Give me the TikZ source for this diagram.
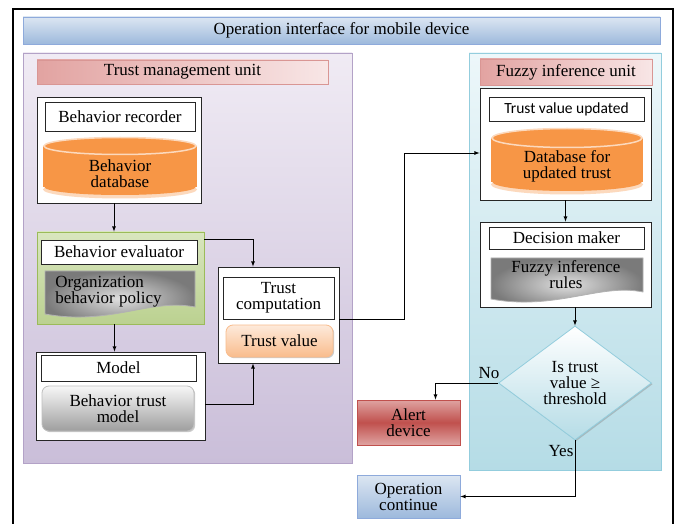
\documentclass[tikz,border=0pt]{standalone}
\usepackage{fontspec}
\setmainfont{Liberation Serif}
\newfontfamily\calfont{Carlito}
\usetikzlibrary{arrows,shapes.geometric,shadows}
\definecolor{bluelt}{HTML}{DCE6F2}
\definecolor{bluedk}{HTML}{9DB9DC}
\definecolor{blueline}{HTML}{8EAADB}
\definecolor{lavlt}{HTML}{F0EBF4}
\definecolor{lavdk}{HTML}{CABED9}
\definecolor{lavline}{HTML}{B3A2C7}
\definecolor{aqualt}{HTML}{EDF7FA}
\definecolor{aquadk}{HTML}{B5DCE6}
\definecolor{aqualine}{HTML}{93CDDD}
\definecolor{pinkdk}{HTML}{E2A3A1}
\definecolor{pinklt}{HTML}{F8E6E6}
\definecolor{pinkline}{HTML}{D99694}
\definecolor{greenlt}{HTML}{D9E6BF}
\definecolor{greendk}{HTML}{BBD190}
\definecolor{greenline}{HTML}{9BBB59}
\definecolor{cylbody}{HTML}{F79646}
\definecolor{cylrim}{HTML}{FCD9BD}
\definecolor{peachlt}{HTML}{FDEADB}
\definecolor{peachdk}{HTML}{F9BC8C}
\definecolor{redmid}{HTML}{C0504D}
\definecolor{redlt}{HTML}{DFA3A1}

\tikzset{
  shadowed/.style={drop shadow={shadow xshift=1.2pt, shadow yshift=-1.2pt, fill=black!45, opacity=0.45}},
  titlebar/.style={draw=blueline, top color=bluelt, bottom color=bluedk, shadowed},
  tmupanel/.style={draw=lavline, line width=0.8pt, top color=lavlt, bottom color=lavdk, shadowed},
  fiupanel/.style={draw=aqualine, line width=0.8pt, top color=aqualt, bottom color=aquadk, shadowed},
  header/.style={draw=pinkline, left color=pinkdk, right color=pinklt, shadowed},
  outerbox/.style={draw=black!85, line width=0.8pt, fill=white},
  labbox/.style={draw=black!85, line width=0.8pt, fill=white, inner sep=0pt, align=center},
  txt/.style={inner sep=0pt, align=center},
  greybox/.style={draw=black!25, rounded corners=7pt, top color=black!3, bottom color=black!38, shadowed, align=center},
  peachbox/.style={draw=peachdk, rounded corners=7pt, top color=peachlt, bottom color=peachdk, shadowed},
  docshade/.style={inner color=black!12, outer color=black!52, draw=black!30},
  decision/.style={diamond, aspect=1.34, inner sep=0pt, align=center, draw=aqualine, top color=white, bottom color=aquadk, shadowed}
}

\begin{document}
\begin{tikzpicture}[x=1pt, y=-1pt, >=latex, line width=0.8pt, font=\fontsize{17}{16}\selectfont]
	\useasboundingbox (0,0) rectangle (681,524);
	\draw[line width=2.5pt] (13,540) -- (13,9) -- (673,9) -- (673,540);
	%
	\node[titlebar, minimum width=637pt, minimum height=27pt] (title) at (341.5,30.5) {Operation interface for mobile device};
	\node[tmupanel, minimum width=329pt, minimum height=410pt] (tmu) at (187.5,258) {};
	\node[fiupanel, minimum width=192pt, minimum height=417pt] (fiu) at (565,261.5) {};
	\node[header, minimum width=291pt, minimum height=24pt] (tmuhead) at (182.5,72) {Trust management unit};
	\node[header, minimum width=172pt, minimum height=26pt] (fiuhead) at (566,72) {Fuzzy inference unit};
	%
	\node[outerbox, minimum width=164pt, minimum height=106pt] (rec) at (119,150) {};
	\node[labbox, minimum width=150pt, minimum height=29pt] (reclab) at (120,117) {Behavior recorder};
	\fill[cylrim] (120,189.5) ellipse (77 and 9);
	\fill[cylbody] (43,146) rectangle (197,187);
	\fill[cylbody] (120,187) ellipse (75.5 and 8);
	\filldraw[fill=cylbody, draw=cylrim, line width=1.5pt] (120,146) ellipse (76 and 8.5);
	\node[txt] (recdb) at (120,174) {Behavior\\database};
	%
	\node[outerbox, draw=greenline, top color=greenlt, bottom color=greendk, minimum width=167pt, minimum height=92pt] (eval) at (120.5,278) {};
	\node[labbox, minimum width=156pt, minimum height=24pt] (evallab) at (119,252) {Behavior evaluator};
	\shade[docshade] (45,271) -- (195,271) -- (195,307) .. controls (150,298) and (110,326) .. (45,314) -- cycle;
	\node[txt, align=left, anchor=west] (policy) at (55,292) {Organization\\behavior policy};
	%
	\node[outerbox, minimum width=169pt, minimum height=88pt] (model) at (120.5,396) {};
	\node[labbox, minimum width=155pt, minimum height=26pt] (modellab) at (118.5,368) {Model};
	\node[greybox, minimum width=152pt, minimum height=45pt] (btm) at (118,408.5) {Behavior trust\\model};
	%
	\node[outerbox, minimum width=121pt, minimum height=96pt] (tc) at (278.5,315) {};
	\node[labbox, minimum width=111pt, minimum height=42pt] (tclab) at (278.5,298) {Trust\\computation};
	\node[peachbox, minimum width=107pt, minimum height=32pt] (tval) at (279.5,341) {Trust value};
	%
	\node[outerbox, minimum width=171pt, minimum height=112pt] (tvu) at (565.5,144) {};
	\node[labbox, minimum width=155pt, minimum height=24pt, font=\calfont\fontsize{15.5}{16}\selectfont] (tvulab) at (566.5,109) {Trust value updated};
	\fill[cylrim] (567,184.5) ellipse (76 and 10);
	\fill[cylbody] (491,138) rectangle (643,182);
	\fill[cylbody] (567,182) ellipse (74.5 and 9);
	\filldraw[fill=cylbody, draw=cylrim, line width=1.5pt] (567,138) ellipse (75 and 9.5);
	\node[txt] (upddb) at (567,166.5) {Database for\\updated trust};
	%
	\node[outerbox, minimum width=171pt, minimum height=85pt] (dec) at (565.5,264.5) {};
	\node[labbox, minimum width=155pt, minimum height=22pt] (declab) at (566.5,238) {Decision maker};
	\shade[docshade] (491,258) -- (643,258) -- (643,292) .. controls (600,283) and (555,311) .. (491,299) -- cycle;
	\node[txt] (rules) at (566,275) {Fuzzy inference\\rules};
	%
	\node[decision, minimum width=153pt, minimum height=114pt] (thr) at (575,383) {Is trust\\value ≥\\threshold};
	\node[draw=redmid, top color=redlt, bottom color=redlt, middle color=redmid, shadowed, align=center, minimum width=103pt, minimum height=45pt] (alert) at (408.5,422.5) {Alert\\device};
	\node[draw=blueline, top color=bluelt, bottom color=bluedk, shadowed, align=center, minimum width=103pt, minimum height=43pt] (opc) at (408.5,496.5) {Operation\\continue};
	\node (no) at (489,373) {No};
	\node (yes) at (561,451) {Yes};
	%
	\coordinate (up) at (404,153);
	\draw [->] ([xshift=-5pt]rec.south) -- ([xshift=-5pt]rec.south |- eval.north);
	\draw [->] ([xshift=-6pt]eval.south) -- ([xshift=-6pt]eval.south |- model.north);
	\draw [->] ([yshift=-8pt]eval.north east) -| ([xshift=-25.5pt]tc.north);
	\draw [->] ([yshift=-8pt]model.east) -| ([xshift=-25.5pt]tc.south);
	\draw [->] ([yshift=-4pt]tc.east) -| (up) -- (up -| tvu.west);
	\draw [->] (tvu.south) -- (dec.north);
	\draw [->] (dec.south -| thr.north) -- (thr.north);
	\draw [->] (thr.west) -| ([xshift=27pt]alert.north);
	\draw [->] (thr.south) |- (opc.east);
\end{tikzpicture}
\end{document}
